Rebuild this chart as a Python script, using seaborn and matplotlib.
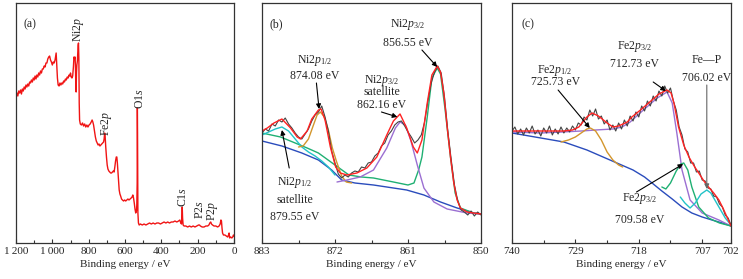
import numpy as np
import pandas as pd
import matplotlib
matplotlib.use("Agg")
import matplotlib.pyplot as plt
from matplotlib.ticker import FixedLocator, FuncFormatter
import seaborn as sns

# ---- (a) survey spectrum ----
survey_be = [1200, 1195, 1190, 1185, 1180, 1175, 1170, 1165, 1160, 1155, 1150, 1145, 1140, 1135, 1130,
             1125, 1120, 1115, 1110, 1105, 1100, 1095, 1090, 1085, 1080, 1075, 1070, 1065, 1060, 1055,
             1050, 1045, 1040, 1035, 1030, 1025, 1020, 1015, 1010, 1005, 1000, 995, 990, 985, 981, 979,
             976, 972, 968, 963, 958, 953, 948, 943, 938, 933, 928, 923, 918, 913, 908, 903, 900, 896,
             892, 888, 884, 881, 878, 875, 873, 871, 869, 867, 865, 862, 860, 858, 856, 854, 852, 850,
             846, 840, 834, 828, 822, 816, 810, 804, 798, 792, 786, 781, 777, 773, 768, 763, 758, 753,
             748, 743, 738, 733, 728, 723, 718, 715, 712, 709, 706, 702, 698, 694, 689, 684, 679, 674,
             669, 664, 660, 656, 652, 648, 645, 642, 639, 636, 632, 628, 624, 619, 614, 608, 602, 596,
             590, 584, 578, 572, 566, 561, 557, 553, 549, 545, 541, 537, 535, 533, 532, 531, 529, 526,
             522, 515, 505, 495, 485, 475, 465, 455, 445, 435, 425, 415, 405, 395, 385, 375, 365, 355,
             345, 335, 325, 315, 305, 298, 293, 289, 286, 285, 283, 280, 275, 265, 255, 245, 235, 225,
             215, 205, 195, 190, 185, 175, 165, 155, 145, 138, 133, 128, 124, 118, 110, 100, 90, 82,
             76, 72, 69, 66, 63, 58, 50, 42, 35, 30, 27, 24, 18, 12, 7, 3, 0]
survey_int = [146, 150, 147, 152, 150, 153, 149, 154, 152, 156, 154, 158, 156, 159, 157,
              161, 160, 163, 161, 165, 163, 167, 164, 168, 166, 170, 168, 172, 170, 174,
              174, 177, 176, 180, 180, 184, 186, 187, 183, 181, 178, 181, 180, 183, 188, 190,
              180, 165, 158, 157, 160, 158, 160, 159, 162, 161, 164, 163, 166, 165, 168, 167, 170, 166,
              165, 167, 176, 186, 184, 186, 178, 160, 151, 170, 178, 182, 190, 198, 200, 185, 140, 123,
              119, 118, 120, 117, 119, 116, 118, 116, 118, 119, 121, 123, 121, 118, 112, 106, 102, 100,
              98, 99, 97, 98, 99, 100, 101, 104, 110, 106, 96, 86, 78, 74, 72, 71, 70, 70,
              71, 72, 71, 76, 82, 86, 86, 80, 72, 63, 53, 49, 47, 44, 43, 42, 43, 42,
              43, 44, 43, 44, 45, 46, 48, 45, 40, 34, 30, 32, 38, 60, 135, 110, 30, 20,
              18, 19, 18, 19, 18, 19, 20, 19, 20, 19, 20, 20, 19, 20, 21, 20, 21, 20,
              21, 21, 22, 21, 22, 23, 20, 19, 30, 36, 25, 18, 17, 17, 16, 17, 16, 17,
              16, 17, 18, 18, 17, 16, 16, 17, 17, 18, 20, 21, 19, 18, 17, 17, 16, 17,
              19, 23, 22, 15, 10, 8, 8, 7, 6, 8, 10, 5, 6, 5, 6, 8, 7]

# ---- (b) Ni 2p ----
ni_raw = [110, 114, 112, 119, 117, 123, 121, 125, 119, 115, 110, 106, 104, 109, 114, 122, 128,
          131, 137, 126, 112, 92, 80, 69, 65, 68, 66, 70, 72, 71, 76, 75, 80, 81, 87, 90,
          97, 100, 108, 112, 118, 121, 122, 117, 111, 106, 100, 103, 108, 121, 142, 160, 171,
          177, 170, 146, 112, 84, 58, 42, 33, 31, 28, 32, 27, 31, 28]
ni_fit_be = [883.0, 882.2, 881.2, 880.0, 878.7, 877.7, 877.2, 876.2, 875.5, 874.5, 874.1, 873.5,
             872.7, 871.9, 871.2, 870.2, 868.7, 867.2, 865.7, 864.2, 863.2, 862.2, 861.2, 860.2,
             859.6, 858.9, 858.1, 857.4, 856.6, 856.1, 855.6, 855.1, 854.6, 854.1, 853.6, 853.1,
             852.1, 851.1, 850.0]
ni_fit = [112, 115, 120, 124, 115, 106, 104, 112, 124, 133, 134, 123, 96, 76, 70, 68, 70, 75, 86,
          108, 122, 129, 115, 96, 90, 103, 140, 168, 177, 171, 150, 116, 86, 60, 43, 35, 31, 30, 29]
ni_bg_be = [883.0, 880.0, 877.0, 874.5, 872.5, 871.0, 869.0, 866.2, 861.2, 858.6, 856.1, 853.6, 851.1, 850.0]
ni_bg = [102, 97, 90, 83, 73, 63, 60, 58, 53, 48, 41, 35, 30, 29]
ni_main_be = [883.0, 880.2, 878.0, 876.2, 874.5, 872.0, 869.9, 868.0, 866.2, 863.2, 861.0, 860.1,
              859.4, 858.9, 858.1, 857.4, 856.6, 856.1, 855.4, 854.6, 853.9, 853.1, 851.1, 850.0]
ni_main = [110, 106, 100, 95, 90, 78, 68, 66, 65, 61, 58, 60, 73, 86, 126, 165, 175, 169, 133,
           86, 50, 35, 30, 29]
ni_sat12_be = [883.0, 882.0, 881.0, 880.0, 879.0, 878.0, 877.0, 876.0, 875.0, 874.0, 873.0, 872.0]
ni_sat12 = [108, 111, 114, 116, 112, 104, 96, 91, 87, 82, 76, 68]
ni_p12_be = [877.5, 876.8, 876.0, 875.3, 874.7, 874.2, 873.6, 873.0, 872.4, 871.8, 871.0, 870.3, 869.5]
ni_p12 = [96, 97, 104, 117, 128, 131, 126, 113, 95, 82, 67, 61, 60]
ni_sat32_be = [871.7, 870.2, 868.2, 866.2, 864.2, 862.9, 862.2, 861.4, 860.6, 859.6, 858.6, 857.1,
               855.1, 852.1, 850.0]
ni_sat32 = [61, 63, 66, 73, 95, 115, 121, 118, 103, 78, 55, 41, 34, 30, 29]

# ---- (c) Fe 2p ----
fe_raw = [112, 116, 109, 114, 108, 115, 110, 117, 109, 113, 107, 115, 110, 117, 108, 114, 109,
          116, 110, 115, 111, 117, 113, 120, 118, 126, 123, 133, 127, 134, 124, 127, 119, 123,
          113, 118, 112, 120, 114, 123, 117, 127, 122, 131, 126, 137, 132, 142, 137, 147, 142,
          152, 147, 157, 150, 155, 142, 133, 116, 108, 94, 91, 80, 80, 71, 72, 63, 62, 55, 54,
          47, 46, 39, 36, 28, 25, 18]
fe_fit_be = [740.0, 737.0, 734.0, 731.0, 729.5, 728.4, 727.0, 726.1, 725.0, 723.5, 722.5, 721.5,
             720.0, 719.2, 717.5, 715.7, 714.5, 713.1, 712.4, 711.9, 711.1, 710.2, 709.3, 708.4,
             707.6, 706.7, 705.9, 705.0, 704.1, 703.4, 702.7, 702.0]
fe_fit = [112, 112, 112, 112, 113, 116, 126, 130, 127, 120, 116, 117, 121, 126, 134, 143, 149, 153,
          150, 140, 116, 98, 86, 77, 70, 62, 56, 50, 43, 35, 26, 17]
fe_bg_be = [740.0, 737.0, 734.0, 731.0, 729.0, 727.0, 725.0, 723.0, 721.0, 719.0, 717.0, 715.7,
            714.0, 712.2, 710.5, 708.8, 707.0, 705.3, 703.5, 702.0]
fe_bg = [110, 107, 104, 101, 97, 93, 88, 83, 78, 73, 66, 60, 52, 44, 36, 30, 26, 23, 20, 17]
fe_main_be = [740.0, 735.0, 731.3, 728.0, 725.5, 722.5, 720.9, 719.5, 717.2, 714.8, 713.1, 712.2,
              711.4, 710.5, 709.1, 707.0, 704.1, 702.0]
fe_main = [111, 110, 111, 112, 113, 114, 116, 121, 133, 145, 151, 140, 110, 73, 43, 30, 23, 17]
fe_p12_be = [731.5, 730.2, 729.0, 728.0, 727.0, 726.4, 725.5, 724.5, 723.5, 722.5, 721.5, 720.8]
fe_p12 = [101, 103, 106, 110, 114, 115, 112, 103, 91, 83, 78, 76]
fe_p32_be = [714.0, 713.3, 712.5, 711.5, 710.7, 710.2, 709.5, 708.8, 707.6, 705.9, 704.0, 702.0]
fe_p32 = [56, 54, 60, 72, 79, 80, 73, 56, 36, 25, 20, 17]
fe_fep_be = [710.8, 710.0, 709.1, 708.2, 707.2, 706.2, 705.5, 704.8, 704.1, 703.0, 702.0]
fe_fep = [46, 40, 35, 40, 49, 53, 50, 43, 36, 25, 18]

RED = "#ff2222"
RAW = "#444444"
BLUE = "#2a4cbc"
GREEN = "#1fb073"
CYAN = "#22c3c8"
ORANGE = "#d3962c"
PURPLE = "#9b6fd2"
FS = 8          # ticks and axis labels
FS_ANN = 8.5    # annotations inside the panels


def draw(ax, be, inten, color, lw=1.0):
    df = pd.DataFrame({"be": be, "i": inten})
    sns.lineplot(data=df, x="be", y="i", ax=ax, color=color, lw=lw, sort=False,
                 estimator=None, legend=False)


def style_axes(ax, xlim, majors, minors, ylim):
    ax.set_xlim(*xlim)
    ax.set_ylim(*ylim)
    ax.xaxis.set_major_locator(FixedLocator(majors))
    ax.xaxis.set_minor_locator(FixedLocator(minors))
    ax.set_yticks([])
    ax.set_ylabel("")
    ax.set_xlabel("Binding energy / eV", fontsize=FS, labelpad=3)
    ax.tick_params(axis="x", which="both", direction="in", top=False, labelsize=FS, pad=3,
                   width=0.8, color="#333333")
    ax.tick_params(axis="x", which="major", length=3)
    ax.tick_params(axis="x", which="minor", length=2.5)
    for s in ax.spines.values():
        s.set_linewidth(0.9)
        s.set_color("#333333")


def label(ax, x, y, s, **kw):
    ax.text(x, y, s, fontsize=FS_ANN, ha="center", va="center", **kw)


def arrow(ax, start, end, color="black"):
    ax.annotate("", xy=end, xytext=start,
                arrowprops=dict(arrowstyle="-|>", color=color, lw=0.8, mutation_scale=7,
                                shrinkA=0, shrinkB=0))


sns.set_style("ticks")
plt.rcParams["font.family"] = ["Liberation Serif", "DejaVu Serif"]
plt.rcParams["mathtext.fontset"] = "custom"
plt.rcParams["mathtext.rm"] = "Liberation Serif"
plt.rcParams["mathtext.it"] = "Liberation Serif:italic"

fig = plt.figure(figsize=(7.43, 2.79), dpi=100)
ax_a = fig.add_axes([16 / 743, 36 / 279, 218 / 743, 240 / 279])
ax_b = fig.add_axes([262 / 743, 36 / 279, 219 / 743, 240 / 279])
ax_c = fig.add_axes([512 / 743, 36 / 279, 219 / 743, 240 / 279])

# (a)
draw(ax_a, survey_be, survey_int, "#f01414")
style_axes(ax_a, (1200, 0), list(range(1200, -1, -200)), list(range(1100, 0, -200)), (0, 240))
ax_a.xaxis.set_major_formatter(FuncFormatter(lambda v, p: f"{int(v):,}".replace(",", "\u2009")))
ax_a.text(1158, 219, "(a)", fontsize=FS_ANN, ha="left", va="center")
for lab, x, y in [("Ni2$p$", 856, 214), ("Fe2$p$", 700, 120), ("O1$s$", 517, 144),
                  ("C1$s$", 282, 46), ("P2$s$", 188, 33), ("P2$p$", 120, 32)]:
    label(ax_a, x, y, lab, rotation=90)

# (b)
draw(ax_b, ni_bg_be, ni_bg, BLUE)
draw(ax_b, ni_main_be, ni_main, GREEN)
draw(ax_b, ni_sat12_be, ni_sat12, CYAN)
draw(ax_b, ni_p12_be, ni_p12, ORANGE)
draw(ax_b, ni_sat32_be, ni_sat32, PURPLE)
draw(ax_b, np.linspace(883, 850, len(ni_raw)), ni_raw, RAW, lw=0.8)
draw(ax_b, ni_fit_be, ni_fit, RED)
style_axes(ax_b, (883, 850), [883, 872, 861, 850], [877.5, 866.5, 855.5], (0, 240))
ax_b.text(881.9, 219, "(b)", fontsize=FS_ANN, ha="left", va="center")
label(ax_b, 861.0, 218, "Ni2$p_{3/2}$")
label(ax_b, 861.0, 200, "856.55 eV")
arrow(ax_b, (858.9, 193), (856.6, 176))
label(ax_b, 875.0, 183, "Ni2$p_{1/2}$")
label(ax_b, 875.0, 167, "874.08 eV")
arrow(ax_b, (874.8, 160), (874.4, 134))
label(ax_b, 865.0, 163, "Ni2$p_{3/2}$")
label(ax_b, 865.0, 151, "satellite")
label(ax_b, 865.0, 138, "862.16 eV")
arrow(ax_b, (865.0, 131), (862.6, 126))
label(ax_b, 878.0, 61, "Ni2$p_{1/2}$")
label(ax_b, 878.0, 43, "satellite")
label(ax_b, 878.0, 26, "879.55 eV")
arrow(ax_b, (878.9, 75), (880.0, 113))

# (c)
draw(ax_c, fe_bg_be, fe_bg, BLUE)
draw(ax_c, fe_main_be, fe_main, PURPLE)
draw(ax_c, fe_p12_be, fe_p12, ORANGE)
draw(ax_c, fe_p32_be, fe_p32, GREEN)
draw(ax_c, fe_fep_be, fe_fep, CYAN)
draw(ax_c, np.linspace(740, 702, len(fe_raw)), fe_raw, RAW, lw=0.8)
draw(ax_c, fe_fit_be, fe_fit, RED)
style_axes(ax_c, (740, 702), [740, 729, 718, 707, 702], [734.5, 723.5, 712.5], (0, 240))
ax_c.text(738.4, 219, "(c)", fontsize=FS_ANN, ha="left", va="center")
label(ax_c, 718.7, 196, "Fe2$p_{3/2}$")
label(ax_c, 718.7, 179, "712.73 eV")
arrow(ax_c, (715.5, 161), (713.3, 152))
label(ax_c, 732.5, 173, "Fe2$p_{1/2}$")
label(ax_c, 732.5, 161, "725.73 eV")
arrow(ax_c, (732.0, 153), (726.5, 115))
label(ax_c, 706.2, 183, "Fe\u2014P")
label(ax_c, 706.3, 165, "706.02 eV")
arrow(ax_c, (706.2, 158), (706.2, 54), color="#666666")
label(ax_c, 717.8, 45, "Fe2$p_{3/2}$")
label(ax_c, 717.8, 23, "709.58 eV")
arrow(ax_c, (718.4, 51), (710.3, 79))

fig.savefig("out.png", dpi=100)
